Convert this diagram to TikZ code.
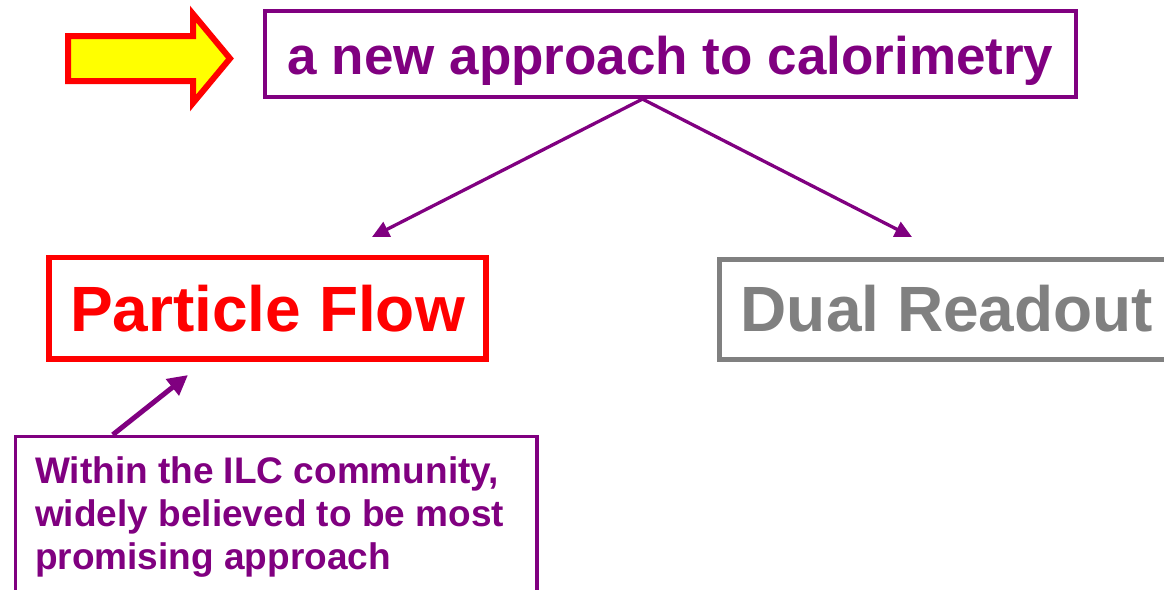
\documentclass[tikz,border=0pt]{standalone}
\usepackage{fontspec}
\setmainfont{Liberation Sans}
\usetikzlibrary{arrows.meta,calc}

\definecolor{plum}{RGB}{128,0,128}
\definecolor{alarm}{RGB}{255,0,0}
\definecolor{lemon}{RGB}{255,255,0}
\definecolor{slate}{RGB}{128,128,128}

\tikzset{
  frame/.style={draw, rectangle, inner sep=0pt, font=\bfseries},
  link/.style={draw=plum, line width=3.3pt, -{Triangle[length=17pt,width=16pt]}},
  hint/.style={draw=plum, line width=5pt, -{Triangle[length=20pt,width=20pt]}},
}

\begin{document}
\begin{tikzpicture}[x=1pt,y=-1pt]
  \useasboundingbox (0,0) rectangle (1164,589);

  % pointer arrow at the heading
  \draw[draw=alarm, fill=lemon, line width=6pt, line join=miter]
    (68,36) -- (193,36) -- (193,14) -- (230,58.5) -- (193,103) -- (193,81) -- (68,81) -- cycle;

  % heading
  \node[frame, draw=plum, line width=4pt, text=plum,
        minimum width=811pt, minimum height=85.7pt,
        text height=51.6pt, text depth=12pt,
        font=\fontsize{53}{60}\selectfont\bfseries]
    (top) at (670.5,54.2) {a new approach to calorimetry};

  % the two approaches
  \node[frame, draw=alarm, line width=5.5pt, text=alarm,
        minimum width=437pt, minimum height=101.3pt,
        text height=60pt, text depth=13pt,
        font=\fontsize{64}{72}\selectfont\bfseries]
    (pf) at (267.5,308.2) {Particle Flow};
  \node[frame, draw=slate, line width=5pt, text=slate,
        minimum width=455pt, minimum height=100pt,
        text height=57.4pt, text depth=13pt,
        font=\fontsize{64}{72}\selectfont\bfseries]
    (dr) at (947,309.5) {Dual Readout};

  % note box and its text
  \node[frame, draw=plum, line width=3.5pt, anchor=north west,
        minimum width=521.5pt, minimum height=200pt]
    (note) at (13.75,434.75) {};
  \node[anchor=north west, inner sep=0pt, align=left, text=plum,
        font=\fontsize{37}{43}\selectfont\bfseries]
    (notetext) at (35,456)
    {Within the ILC community,\\widely believed to be most\\promising approach};

  % connectors
  \coordinate (pfin) at (372,237);
  \coordinate (drin) at (912,237);
  \coordinate (pfnote) at (188,375);
  \draw[link] ($(top.south)+(-28,0)$) -- (pfin);
  \draw[link] ($(top.south)+(-28,0)$) -- (drin);
  \draw[hint] ($(note.north west)+(99,0)$) -- (pfnote);
\end{tikzpicture}
\end{document}
